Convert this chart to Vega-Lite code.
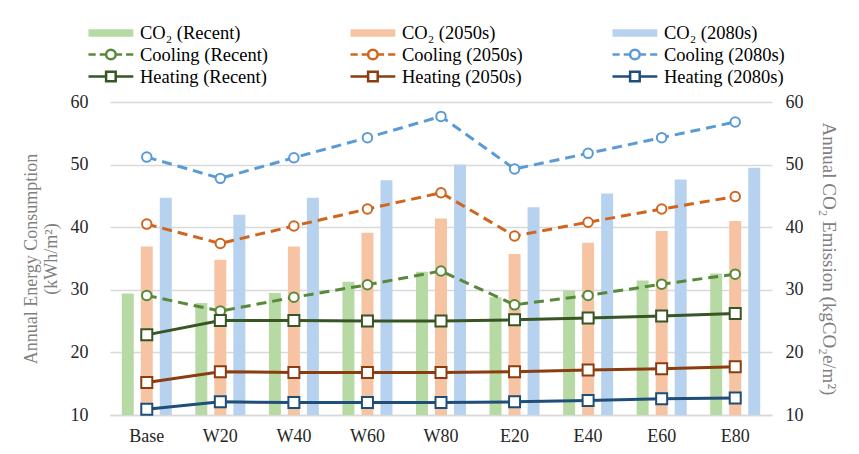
{
  "$schema": "https://vega.github.io/schema/vega-lite/v6.json",
  "width": 662,
  "height": 313,
  "autosize": {"type": "none"},
  "padding": {"left": 110, "top": 102, "right": 87, "bottom": 39},
  "background": "white",
  "config": {
    "font": "Liberation Serif",
    "view": {"stroke": null},
    "axis": {"labelFont": "Liberation Serif", "titleFont": "Liberation Serif", "labelFontSize": 18, "labelColor": "#262626", "titleColor": "#7f7f7f", "titleFontWeight": "normal", "titleFontSize": 18, "ticks": false, "tickSize": 0}
  },
  "data": {
    "values": [
      {"c": "Base", "s": "CO₂ (Recent)", "k": "bar", "v": 29.4},
      {"c": "Base", "s": "CO₂ (2050s)", "k": "bar", "v": 36.9},
      {"c": "Base", "s": "CO₂ (2080s)", "k": "bar", "v": 44.7},
      {"c": "Base", "s": "Cooling (Recent)", "k": "cool", "v": 29.1},
      {"c": "Base", "s": "Cooling (2050s)", "k": "cool", "v": 40.5},
      {"c": "Base", "s": "Cooling (2080s)", "k": "cool", "v": 51.2},
      {"c": "Base", "s": "Heating (Recent)", "k": "heat", "v": 22.8},
      {"c": "Base", "s": "Heating (2050s)", "k": "heat", "v": 15.2},
      {"c": "Base", "s": "Heating (2080s)", "k": "heat", "v": 10.9},
      {"c": "W20", "s": "CO₂ (Recent)", "k": "bar", "v": 27.9},
      {"c": "W20", "s": "CO₂ (2050s)", "k": "bar", "v": 34.8},
      {"c": "W20", "s": "CO₂ (2080s)", "k": "bar", "v": 42.0},
      {"c": "W20", "s": "Cooling (Recent)", "k": "cool", "v": 26.6},
      {"c": "W20", "s": "Cooling (2050s)", "k": "cool", "v": 37.4},
      {"c": "W20", "s": "Cooling (2080s)", "k": "cool", "v": 47.8},
      {"c": "W20", "s": "Heating (Recent)", "k": "heat", "v": 25.1},
      {"c": "W20", "s": "Heating (2050s)", "k": "heat", "v": 16.9},
      {"c": "W20", "s": "Heating (2080s)", "k": "heat", "v": 12.1},
      {"c": "W40", "s": "CO₂ (Recent)", "k": "bar", "v": 29.5},
      {"c": "W40", "s": "CO₂ (2050s)", "k": "bar", "v": 36.9},
      {"c": "W40", "s": "CO₂ (2080s)", "k": "bar", "v": 44.7},
      {"c": "W40", "s": "Cooling (Recent)", "k": "cool", "v": 28.8},
      {"c": "W40", "s": "Cooling (2050s)", "k": "cool", "v": 40.2},
      {"c": "W40", "s": "Cooling (2080s)", "k": "cool", "v": 51.1},
      {"c": "W40", "s": "Heating (Recent)", "k": "heat", "v": 25.1},
      {"c": "W40", "s": "Heating (2050s)", "k": "heat", "v": 16.8},
      {"c": "W40", "s": "Heating (2080s)", "k": "heat", "v": 12.0},
      {"c": "W60", "s": "CO₂ (Recent)", "k": "bar", "v": 31.3},
      {"c": "W60", "s": "CO₂ (2050s)", "k": "bar", "v": 39.1},
      {"c": "W60", "s": "CO₂ (2080s)", "k": "bar", "v": 47.5},
      {"c": "W60", "s": "Cooling (Recent)", "k": "cool", "v": 30.8},
      {"c": "W60", "s": "Cooling (2050s)", "k": "cool", "v": 42.9},
      {"c": "W60", "s": "Cooling (2080s)", "k": "cool", "v": 54.3},
      {"c": "W60", "s": "Heating (Recent)", "k": "heat", "v": 25.0},
      {"c": "W60", "s": "Heating (2050s)", "k": "heat", "v": 16.8},
      {"c": "W60", "s": "Heating (2080s)", "k": "heat", "v": 12.0},
      {"c": "W80", "s": "CO₂ (Recent)", "k": "bar", "v": 32.9},
      {"c": "W80", "s": "CO₂ (2050s)", "k": "bar", "v": 41.4},
      {"c": "W80", "s": "CO₂ (2080s)", "k": "bar", "v": 50.0},
      {"c": "W80", "s": "Cooling (Recent)", "k": "cool", "v": 33.0},
      {"c": "W80", "s": "Cooling (2050s)", "k": "cool", "v": 45.5},
      {"c": "W80", "s": "Cooling (2080s)", "k": "cool", "v": 57.7},
      {"c": "W80", "s": "Heating (Recent)", "k": "heat", "v": 25.0},
      {"c": "W80", "s": "Heating (2050s)", "k": "heat", "v": 16.8},
      {"c": "W80", "s": "Heating (2080s)", "k": "heat", "v": 12.0},
      {"c": "E20", "s": "CO₂ (Recent)", "k": "bar", "v": 28.8},
      {"c": "E20", "s": "CO₂ (2050s)", "k": "bar", "v": 35.7},
      {"c": "E20", "s": "CO₂ (2080s)", "k": "bar", "v": 43.2},
      {"c": "E20", "s": "Cooling (Recent)", "k": "cool", "v": 27.6},
      {"c": "E20", "s": "Cooling (2050s)", "k": "cool", "v": 38.6},
      {"c": "E20", "s": "Cooling (2080s)", "k": "cool", "v": 49.3},
      {"c": "E20", "s": "Heating (Recent)", "k": "heat", "v": 25.2},
      {"c": "E20", "s": "Heating (2050s)", "k": "heat", "v": 16.9},
      {"c": "E20", "s": "Heating (2080s)", "k": "heat", "v": 12.1},
      {"c": "E40", "s": "CO₂ (Recent)", "k": "bar", "v": 29.9},
      {"c": "E40", "s": "CO₂ (2050s)", "k": "bar", "v": 37.5},
      {"c": "E40", "s": "CO₂ (2080s)", "k": "bar", "v": 45.4},
      {"c": "E40", "s": "Cooling (Recent)", "k": "cool", "v": 29.1},
      {"c": "E40", "s": "Cooling (2050s)", "k": "cool", "v": 40.8},
      {"c": "E40", "s": "Cooling (2080s)", "k": "cool", "v": 51.8},
      {"c": "E40", "s": "Heating (Recent)", "k": "heat", "v": 25.5},
      {"c": "E40", "s": "Heating (2050s)", "k": "heat", "v": 17.2},
      {"c": "E40", "s": "Heating (2080s)", "k": "heat", "v": 12.3},
      {"c": "E60", "s": "CO₂ (Recent)", "k": "bar", "v": 31.5},
      {"c": "E60", "s": "CO₂ (2050s)", "k": "bar", "v": 39.4},
      {"c": "E60", "s": "CO₂ (2080s)", "k": "bar", "v": 47.6},
      {"c": "E60", "s": "Cooling (Recent)", "k": "cool", "v": 30.9},
      {"c": "E60", "s": "Cooling (2050s)", "k": "cool", "v": 42.9},
      {"c": "E60", "s": "Cooling (2080s)", "k": "cool", "v": 54.3},
      {"c": "E60", "s": "Heating (Recent)", "k": "heat", "v": 25.8},
      {"c": "E60", "s": "Heating (2050s)", "k": "heat", "v": 17.4},
      {"c": "E60", "s": "Heating (2080s)", "k": "heat", "v": 12.6},
      {"c": "E80", "s": "CO₂ (Recent)", "k": "bar", "v": 32.6},
      {"c": "E80", "s": "CO₂ (2050s)", "k": "bar", "v": 41.0},
      {"c": "E80", "s": "CO₂ (2080s)", "k": "bar", "v": 49.5},
      {"c": "E80", "s": "Cooling (Recent)", "k": "cool", "v": 32.5},
      {"c": "E80", "s": "Cooling (2050s)", "k": "cool", "v": 44.9},
      {"c": "E80", "s": "Cooling (2080s)", "k": "cool", "v": 56.8},
      {"c": "E80", "s": "Heating (Recent)", "k": "heat", "v": 26.2},
      {"c": "E80", "s": "Heating (2050s)", "k": "heat", "v": 17.7},
      {"c": "E80", "s": "Heating (2080s)", "k": "heat", "v": 12.7}
    ]
  },
  "encoding": {
    "x": {
      "field": "c", "type": "nominal", "title": null,
      "scale": {"domain": ["Base", "W20", "W40", "W60", "W80", "E20", "E40", "E60", "E80"], "paddingInner": 0.32, "paddingOuter": 0.16},
      "axis": {"labelAngle": 0, "labelPadding": 12, "domainColor": "#d9d9d9", "domainWidth": 1.5, "grid": false}
    },
    "color": {
      "field": "s", "type": "nominal",
      "scale": {
        "domain": ["CO₂ (Recent)", "CO₂ (2050s)", "CO₂ (2080s)", "Cooling (Recent)", "Cooling (2050s)", "Cooling (2080s)", "Heating (Recent)", "Heating (2050s)", "Heating (2080s)"],
        "range": ["#b7d9a4", "#f6c3a3", "#b7d2ee", "#58893a", "#d0651f", "#5b9bd5", "#375623", "#8b3d10", "#1f4e79"]
      },
      "legend": {
        "orient": "none", "legendX": -23, "legendY": -79, "columns": 3, "direction": "horizontal",
        "columnPadding": 77, "rowPadding": 1, "gridAlign": "all", "title": null,
        "symbolSize": 256, "symbolStrokeWidth": 2.5,
        "labelFontSize": 18.5, "labelFont": "Liberation Serif", "labelColor": "black", "labelOffset": 34, "labelLimit": 300,
        "encode": {
          "symbols": {
            "update": {
              "shape": {"signal": "indexof(datum.value,'CO')===0 ? 'M-1,-0.3H4.6M-1,-0.1H4.6M-1,0.1H4.6M-1,0.3H4.6' : indexof(datum.value,'Cool')===0 ? 'M-1,0H-0.1M0.4,0H1.2M2.4,0H3.2M3.7,0H4.6M2.4,0A0.6,0.6 0 1,1 1.2,0A0.6,0.6 0 1,1 2.4,0M2.4,0A0.6,0.6 0 1,0 1.2,0A0.6,0.6 0 1,0 2.4,0' : 'M-1,0H1.2M2.4,0H4.6M1.2,-0.6H2.4V0.6H1.2ZM1.2,-0.6V0.6H2.4V-0.6Z'"}
            }
          }
        }
      }
    }
  },
  "layer": [
    {
      "transform": [{"filter": "datum.k === 'bar'"}],
      "mark": {"type": "bar", "opacity": 1},
      "encoding": {
        "xOffset": {"field": "s", "type": "nominal", "scale": {"domain": ["CO₂ (Recent)", "CO₂ (2050s)", "CO₂ (2080s)"], "paddingInner": 0.37, "paddingOuter": 0}},
        "y": {
          "field": "v", "type": "quantitative",
          "scale": {"domain": [10, 60], "zero": false, "nice": false},
          "axis": {"orient": "right", "values": [10, 20, 30, 40, 50, 60], "grid": false, "domain": false, "labelPadding": 13, "titlePadding": 15, "titleFontSize": 19, "title": "Annual CO₂ Emission (kgCO₂e/m²)"}
        },
        "y2": {"datum": 10}
      }
    },
    {
      "layer": [
        {
          "transform": [{"filter": "datum.k === 'cool'"}],
          "mark": {"type": "line", "strokeWidth": 3, "strokeDash": [10, 6]},
          "encoding": {
            "y": {
              "field": "v", "type": "quantitative",
              "scale": {"domain": [10, 60], "zero": false, "nice": false},
              "axis": {"orient": "left", "values": [10, 20, 30, 40, 50, 60], "grid": true, "gridColor": "#d9d9d9", "gridWidth": 1.5, "domain": false, "labelPadding": 22, "titlePadding": 10, "title": ["Annual Energy Consumption", "(kWh/m²)"]}
            }
          }
        },
        {
          "transform": [{"filter": "datum.k === 'heat'"}],
          "mark": {"type": "line", "strokeWidth": 3},
          "encoding": {"y": {"field": "v", "type": "quantitative"}}
        },
        {
          "transform": [{"filter": "datum.k === 'cool'"}],
          "mark": {"type": "point", "shape": "circle", "filled": false, "fill": "white", "fillOpacity": 1, "opacity": 1, "size": 90, "strokeWidth": 2},
          "encoding": {"y": {"field": "v", "type": "quantitative"}}
        },
        {
          "transform": [{"filter": "datum.k === 'heat'"}],
          "mark": {"type": "point", "shape": "square", "filled": false, "fill": "white", "fillOpacity": 1, "opacity": 1, "size": 121, "strokeWidth": 2},
          "encoding": {"y": {"field": "v", "type": "quantitative"}}
        }
      ]
    }
  ],
  "resolve": {"scale": {"y": "independent"}}
}
